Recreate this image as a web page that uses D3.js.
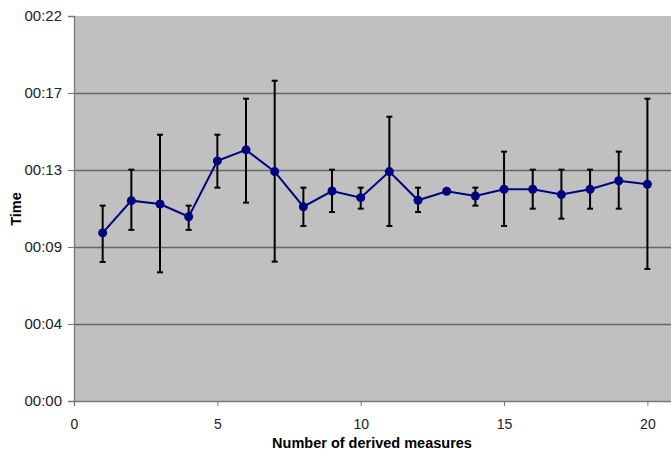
<!DOCTYPE html>
<html>
<head>
<meta charset="utf-8">
<script src="https://cdn.jsdelivr.net/npm/d3@7"></script>
<style>
  body { margin: 0; background: #fff; }
  svg { display: block; font-family: "Liberation Sans", Arial, sans-serif; }
</style>
</head>
<body>
<script>
// seconds
var measures = [1, 2, 3, 4, 5, 6, 7, 8, 9, 10, 11, 12, 13, 14, 15, 16, 17, 18, 19, 20];
var meanTime = [9.43, 11.24, 11.05, 10.34, 13.47, 14.09, 12.87, 10.9, 11.78, 11.41,
  12.87, 11.26, 11.77, 11.5, 11.88, 11.88, 11.58, 11.88, 12.36, 12.16];
var highTime = [10.96, 12.98, 14.94, 10.96, 14.94, 16.96, 17.97, 11.97, 12.98, 11.97,
  15.95, 11.97, 11.87, 11.97, 13.99, 12.98, 12.98, 12.98, 13.99, 16.96];
var lowTime = [7.8, 9.6, 7.22, 9.6, 11.97, 11.13, 7.82, 9.82, 10.6, 10.79,
  9.82, 10.6, 11.67, 10.96, 9.82, 10.79, 10.23, 10.79, 10.79, 7.41];
var yTicks = [0, 4.32, 8.64, 12.96, 17.28, 21.6];
var xTicks = [0, 5, 10, 15, 20];

var width = 671, height = 454;
var mLeft = 74, mTop = 16, mBottom = 401;

var data = measures.map((m, i) => ({ x: m, y: meanTime[i], lo: lowTime[i], hi: highTime[i] }));

var x = d3.scaleLinear().domain([0, 21]).range([mLeft, mLeft + 21 * 28.67]);
var y = d3.scaleLinear().domain([0, 21.6]).range([mBottom, mTop]);

var fmt = (s) => "00:" + String(Math.round(s)).padStart(2, "0");

var svg = d3.select("body").append("svg")
  .attr("width", width)
  .attr("height", height);

svg.append("rect")
  .attr("x", mLeft)
  .attr("y", mTop)
  .attr("width", x(21) - mLeft)
  .attr("height", mBottom - mTop)
  .attr("fill", "#c0c0c0");

// grid
svg.append("g")
  .selectAll("line")
  .data(yTicks.slice(1, -1))
  .join("line")
  .attr("x1", mLeft)
  .attr("x2", x(21))
  .attr("y1", (d) => Math.round(y(d)) + 0.5)
  .attr("y2", (d) => Math.round(y(d)) + 0.5)
  .attr("stroke", "#666")
  .attr("stroke-width", 1.3);

var yAxis = svg.append("g")
  .attr("transform", `translate(${mLeft},0)`)
  .call(d3.axisLeft(y).tickValues(yTicks).tickFormat(fmt).tickSize(6).tickPadding(6));

var xAxis = svg.append("g")
  .attr("transform", `translate(0,${mBottom})`)
  .call(d3.axisBottom(x).tickValues(xTicks).tickSize(5).tickPadding(13));

[yAxis, xAxis].forEach((g) => {
  g.select(".domain").attr("stroke", "#777").attr("stroke-width", 1.3);
  g.selectAll(".tick line").attr("stroke", "#777");
  g.selectAll(".tick text")
    .attr("fill", "#222")
    .attr("font-size", 14)
    .attr("font-family", "Liberation Sans, Arial, sans-serif");
});
yAxis.selectAll(".tick text").attr("font-size", 15);

// error bars
var eb = svg.append("g")
  .attr("stroke", "#000")
  .attr("stroke-width", 2);

eb.selectAll("line.v")
  .data(data)
  .join("line")
  .attr("class", "v")
  .attr("x1", (d) => x(d.x))
  .attr("x2", (d) => x(d.x))
  .attr("y1", (d) => y(d.hi))
  .attr("y2", (d) => y(d.lo));

eb.selectAll("line.cap")
  .data(data.flatMap((d) => [{ x: d.x, v: d.hi }, { x: d.x, v: d.lo }]))
  .join("line")
  .attr("class", "cap")
  .attr("x1", (d) => x(d.x) - 3)
  .attr("x2", (d) => x(d.x) + 3)
  .attr("y1", (d) => y(d.v))
  .attr("y2", (d) => y(d.v));

svg.append("path")
  .datum(data)
  .attr("fill", "none")
  .attr("stroke", "#000080")
  .attr("stroke-width", 2)
  .attr("d", d3.line().x((d) => x(d.x)).y((d) => y(d.y)));

svg.append("g")
  .selectAll("circle")
  .data(data)
  .join("circle")
  .attr("cx", (d) => x(d.x))
  .attr("cy", (d) => y(d.y))
  .attr("r", 4.5)
  .attr("fill", "#000080");

svg.append("text")
  .attr("x", 372)
  .attr("y", 448)
  .attr("text-anchor", "middle")
  .attr("font-size", 14.5)
  .attr("font-weight", "bold")
  .text("Number of derived measures");

svg.append("text")
  .attr("transform", "translate(21,209) rotate(-90)")
  .attr("text-anchor", "middle")
  .attr("font-size", 14.5)
  .attr("font-weight", "bold")
  .text("Time");
</script>
</body>
</html>
